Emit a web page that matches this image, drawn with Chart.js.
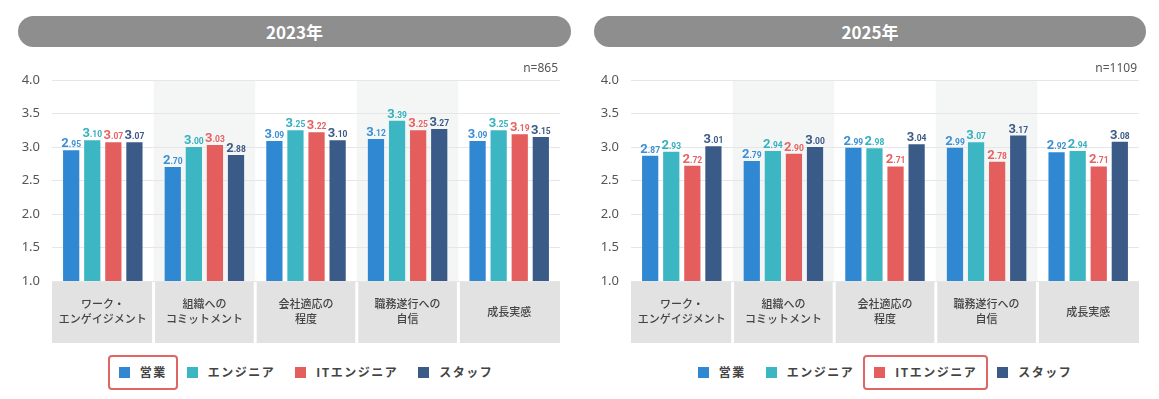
<!DOCTYPE html>
<html>
<head>
<meta charset="utf-8">
<title>2023年 / 2025年</title>
<script src="https://cdn.jsdelivr.net/npm/chart.js"></script>
<style>
  body { margin: 0; background: #fff; font-family: "Noto Sans CJK JP", "Noto Sans", sans-serif; }
  .head { position: absolute; top: 16px; height: 31px; border-radius: 16px; background: #8e8e8e;
          color: #fff; font-weight: bold; font-size: 17px; line-height: 31px; text-align: center; }
  .box { position: absolute; top: 58px; width: 560px; height: 290px; }
  .legend { position: absolute; top: 365px; width: 508px; height: 14px; display: flex; justify-content: center; align-items: center; }
  .item { position: relative; display: flex; align-items: center; margin: 0 10px; font-size: 12px; font-weight: bold;
          color: #444; letter-spacing: 1.5px; line-height: 14px; white-space: nowrap; }
  .item i { display: inline-block; width: 11px; height: 11px; margin-right: 10px; }
  .item.hl::after { content: ""; position: absolute; left: -11px; right: -11px; top: -10px; bottom: -11px;
          border: 2px solid #e06565; border-radius: 4px; }
</style>
</head>
<body>
<div class="head" style="left:18px;width:553px">2023年</div>
<div class="box" style="left:8px"><canvas id="c2023"></canvas></div>
<div class="legend" id="lg2023" style="left:52px"></div>

<div class="head" style="left:594px;width:552px">2025年</div>
<div class="box" style="left:587px"><canvas id="c2025"></canvas></div>
<div class="legend" id="lg2025" style="left:631px"></div>

<script>
// categories (x axis)
const categories = [
  ['ワーク・', 'エンゲイジメント'],
  ['組織への', 'コミットメント'],
  ['会社適応の', '程度'],
  ['職務遂行への', '自信'],
  '成長実感'
];
const seriesNames = ['営業', 'エンジニア', 'ITエンジニア', 'スタッフ'];
const yTicks = [1.0, 1.5, 2.0, 2.5, 3.0, 3.5, 4.0];

// 2023年 n=865
const sales2023    = [2.95, 2.70, 3.09, 3.12, 3.09];
const engineer2023 = [3.10, 3.00, 3.25, 3.39, 3.25];
const itEng2023    = [3.07, 3.03, 3.22, 3.25, 3.19];
const staff2023    = [3.07, 2.88, 3.10, 3.27, 3.15];

// 2025年 n=1109
const sales2025    = [2.87, 2.79, 2.99, 2.99, 2.92];
const engineer2025 = [2.93, 2.94, 2.98, 3.07, 2.94];
const itEng2025    = [2.72, 2.90, 2.71, 2.78, 2.71];
const staff2025    = [3.01, 3.00, 3.04, 3.17, 3.08];

const barColors   = ['#2f88d1', '#3db6c3', '#e45e5e', '#3a5b88'];
const labelColors = ['#3b8fd6', '#33b1be', '#e86262', '#3c5a86'];

// shaded columns + grey category boxes under the axis
const backdrop = {
  id: 'backdrop',
  beforeDraw(chart) {
    const ctx = chart.ctx, a = chart.chartArea, x = chart.scales.x;
    const w = a.width / categories.length;
    ctx.save();
    categories.forEach((c, i) => {
      const cx = x.getPixelForValue(i);
      if (i % 2 === 1) {
        ctx.fillStyle = '#f4f6f6';
        ctx.fillRect(cx - w / 2, a.top, w, a.height);
      }
      ctx.fillStyle = '#e2e2e2';
      const l = i === 0 ? cx - w / 2 : cx - w / 2 + 1.5;
      const r = i === categories.length - 1 ? cx + w / 2 : cx + w / 2 - 1.5;
      ctx.fillRect(l, a.bottom, r - l, x.bottom - a.bottom);
    });
    ctx.restore();
  }
};

// value labels: big integer part, small decimals
const valueLabels = {
  id: 'valueLabels',
  afterDatasetsDraw(chart) {
    const ctx = chart.ctx;
    ctx.save();
    ctx.textBaseline = 'alphabetic';
    ctx.textAlign = 'left';
    chart.data.datasets.forEach((ds, di) => {
      chart.getDatasetMeta(di).data.forEach((bar, i) => {
        const s = ds.data[i].toFixed(2);
        const a = s.slice(0, 1), b = s.slice(1);
        ctx.font = 'bold 13px Roboto';
        const wa = ctx.measureText(a).width;
        ctx.font = 'bold 8.5px Roboto';
        const wb = ctx.measureText(b).width;
        const x0 = bar.x - (wa + wb) / 2;
        const y0 = bar.y - 3;
        ctx.fillStyle = labelColors[di];
        ctx.font = 'bold 13px Roboto';
        ctx.fillText(a, x0, y0);
        ctx.font = 'bold 8.5px Roboto';
        ctx.fillText(b, x0 + wa, y0);
      });
    });
    ctx.restore();
  }
};

const nLabel = {
  id: 'nLabel',
  afterDraw(chart, args, opts) {
    const ctx = chart.ctx, a = chart.chartArea;
    ctx.save();
    ctx.font = '12px "Noto Sans"';
    ctx.fillStyle = '#555';
    ctx.textAlign = 'right';
    ctx.textBaseline = 'alphabetic';
    ctx.fillText(opts.text, a.right - 2, a.top - 8);
    ctx.restore();
  }
};

function makeChart(id, n, series) {
  return new Chart(document.getElementById(id), {
    type: 'bar',
    data: {
      labels: categories,
      datasets: series.map((d, i) => ({
        label: seriesNames[i],
        data: d,
        backgroundColor: barColors[i],
        categoryPercentage: 0.83,
        barPercentage: 0.77
      }))
    },
    options: {
      responsive: true,
      maintainAspectRatio: false,
      animation: false,
      layout: { padding: { top: 22, right: 8, bottom: 5, left: 0 } },
      plugins: {
        legend: { display: false },
        tooltip: { enabled: false },
        nLabel: { text: n }
      },
      scales: {
        x: {
          grid: { display: false },
          border: { display: false },
          afterFit(s) { s.height = 62; },
          ticks: {
            autoSkip: false, maxRotation: 0, crossAlign: 'center', padding: 15,
            color: '#444', font: { family: '"Noto Sans CJK JP"', size: 11, weight: '500', lineHeight: 1.35 }
          }
        },
        y: {
          min: 1, max: 4,
          afterFit(s) { s.width = 44; },
          afterBuildTicks(s) { s.ticks = yTicks.map(v => ({ value: v })); },
          grid: { color: '#e6e6e6', drawTicks: false },
          border: { display: false },
          ticks: {
            padding: 12, color: '#555',
            font: { family: '"Noto Sans"', size: 13 },
            callback: v => v.toFixed(1)
          }
        }
      }
    },
    plugins: [backdrop, valueLabels, nLabel]
  });
}

function makeLegend(id, hl) {
  const el = document.getElementById(id);
  seriesNames.forEach((name, i) => {
    const it = document.createElement('div');
    it.className = 'item' + (i === hl ? ' hl' : '');
    it.innerHTML = '<i style="background:' + barColors[i] + '"></i>' + name;
    el.appendChild(it);
  });
}

makeChart('c2023', 'n=865', [sales2023, engineer2023, itEng2023, staff2023]);
makeChart('c2025', 'n=1109', [sales2025, engineer2025, itEng2025, staff2025]);
makeLegend('lg2023', 0);
makeLegend('lg2025', 2);
</script>
</body>
</html>
